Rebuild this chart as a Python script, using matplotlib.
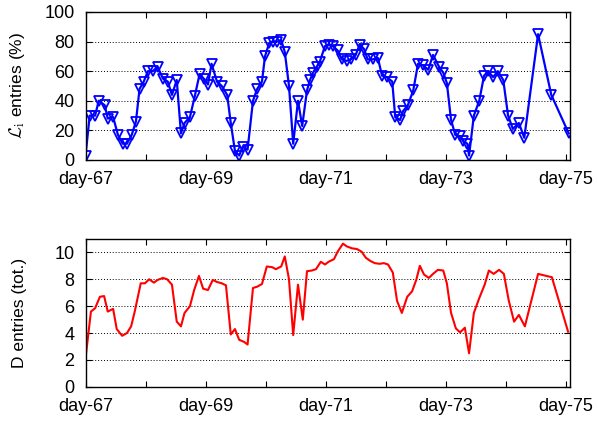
import matplotlib
matplotlib.use('Agg')
import matplotlib.pyplot as plt
from matplotlib.ticker import MultipleLocator, FixedLocator

plt.rcParams['font.family'] = ['Liberation Sans', 'DejaVu Sans']
plt.rcParams['mathtext.fontset'] = 'cm'

# top panel: L_i entries (%)
t_top = [67.00, 67.07, 67.16, 67.22, 67.32, 67.37, 67.46, 67.54, 67.62, 67.69,
         67.77, 67.84, 67.90, 67.97, 68.04, 68.12, 68.20, 68.29, 68.37, 68.44,
         68.52, 68.59, 68.65, 68.74, 68.82, 68.90, 68.97, 69.04, 69.10, 69.19,
         69.27, 69.36, 69.42, 69.49, 69.56, 69.62, 69.70, 69.79, 69.86, 69.94,
         69.99, 70.06, 70.12, 70.19, 70.26, 70.32, 70.39, 70.46, 70.54, 70.61,
         70.69, 70.74, 70.79, 70.85, 70.90, 70.99, 71.05, 71.12, 71.20, 71.27,
         71.35, 71.42, 71.50, 71.57, 71.64, 71.70, 71.79, 71.87, 71.94, 72.02,
         72.11, 72.16, 72.24, 72.29, 72.37, 72.46, 72.54, 72.62, 72.71, 72.79,
         72.89, 72.96, 73.02, 73.09, 73.16, 73.24, 73.29, 73.36, 73.39, 73.47,
         73.56, 73.64, 73.71, 73.79, 73.87, 73.96, 74.04, 74.12, 74.22, 74.31,
         74.54, 74.76, 75.05]
li_pct = [3, 30, 30, 40, 37, 28, 29, 17, 11, 11,
          17, 26, 48, 53, 60, 60, 63, 55, 53, 44,
          54, 18, 25, 29, 43, 58, 55, 51, 65, 53,
          50, 44, 25, 6, 3, 9, 7, 40, 48, 53,
          70, 79, 80, 80, 81, 73, 50, 11, 40, 23,
          47, 54, 59, 63, 66, 77, 78, 77, 74, 68,
          67, 68, 71, 78, 75, 68, 68, 69, 57, 56,
          53, 29, 27, 33, 37, 47, 65, 64, 61, 71,
          63, 59, 52, 27, 17, 16, 13, 11, 3, 30,
          40, 57, 60, 56, 60, 54, 30, 21, 25, 15,
          85, 44, 18]

# bottom panel: D entries (tot.)
t_bot = [67.00, 67.09, 67.16, 67.24, 67.31, 67.37, 67.46, 67.52, 67.61, 67.69,
         67.76, 67.82, 67.92, 67.99, 68.06, 68.14, 68.20, 68.29, 68.36, 68.44,
         68.52, 68.59, 68.65, 68.74, 68.81, 68.89, 68.96, 69.04, 69.12, 69.19,
         69.27, 69.34, 69.42, 69.49, 69.56, 69.64, 69.70, 69.79, 69.86, 69.94,
         70.02, 70.11, 70.17, 70.26, 70.32, 70.39, 70.46, 70.54, 70.62, 70.69,
         70.77, 70.84, 70.92, 70.99, 71.05, 71.14, 71.20, 71.29, 71.35, 71.44,
         71.52, 71.60, 71.67, 71.75, 71.82, 71.90, 71.97, 72.04, 72.12, 72.19,
         72.27, 72.36, 72.44, 72.51, 72.57, 72.64, 72.72, 72.79, 72.87, 72.96,
         73.02, 73.09, 73.17, 73.24, 73.32, 73.39, 73.47, 73.56, 73.65, 73.72,
         73.80, 73.89, 73.97, 74.05, 74.14, 74.22, 74.32, 74.54, 74.77, 75.04]
d_tot = [2.1, 5.6, 5.85, 6.7, 6.75, 5.6, 5.8, 4.3, 3.8, 4.0,
         4.5, 5.6, 7.7, 7.7, 8.0, 7.75, 7.95, 8.1, 8.0, 7.6,
         4.85, 4.5, 5.5, 6.0, 7.2, 8.25, 7.3, 7.2, 7.95, 7.8,
         7.7, 7.55, 3.9, 4.3, 3.5, 3.35, 3.15, 7.35, 7.45, 7.65,
         8.95, 8.9, 8.75, 8.95, 9.7, 8.0, 3.85, 7.6, 5.0, 8.6,
         8.65, 8.75, 9.3, 9.1, 9.3, 9.5, 10.05, 10.65, 10.45, 10.3,
         10.25, 10.05, 9.6, 9.35, 9.2, 9.15, 9.2, 9.1, 8.5, 6.4,
         5.5, 6.7, 7.1, 7.95, 9.0, 8.35, 8.1, 8.4, 8.7, 8.65,
         7.7, 5.5, 4.35, 4.05, 4.4, 2.5, 5.5, 6.6, 7.6, 8.65,
         8.4, 8.7, 8.4, 6.45, 4.85, 5.35, 4.5, 8.4, 8.15, 4.1]

day_ticks = [67, 69, 71, 73, 75]
day_labels = ['day-%d' % d for d in day_ticks]

fig = plt.figure(figsize=(5.98, 4.21), dpi=100)
ax1 = fig.add_axes([0.143, 0.620, 0.810, 0.3515])
ax2 = fig.add_axes([0.143, 0.081, 0.810, 0.3515])

ax1.plot(t_top, li_pct, color='#0000ff', lw=1.6, marker='v', ms=7,
         mfc='none', mec='#0000ff', mew=1.3)
ax2.plot(t_bot, d_tot, color='#ff0000', lw=1.5)

for ax in (ax1, ax2):
    ax.set_xlim(67.0, 75.07)
    ax.set_xticks(day_ticks)
    ax.set_xticklabels(day_labels)
    ax.xaxis.set_minor_locator(FixedLocator([68, 70, 72, 74]))
    ax.tick_params(which='both', direction='in', top=True, right=True,
                   length=4, width=0.8, labelsize=13, pad=8)
    ax.grid(axis='y', linestyle=(0, (1, 2)), color='black', lw=0.7)
    for s in ax.spines.values():
        s.set_linewidth(1.0)

ax1.set_ylim(0, 100)
ax1.yaxis.set_major_locator(MultipleLocator(20))
ax1.set_ylabel(r'$\mathcal{L}_\mathrm{i}$ entries (%)', fontsize=12.5)
ax1.yaxis.set_label_coords(-0.12, 0.5)

ax2.set_ylim(0, 11)
ax2.yaxis.set_major_locator(MultipleLocator(2))
ax2.set_ylabel('D entries (tot.)', fontsize=12.5)
ax2.yaxis.set_label_coords(-0.12, 0.5)

fig.savefig('out.png', dpi=100)
